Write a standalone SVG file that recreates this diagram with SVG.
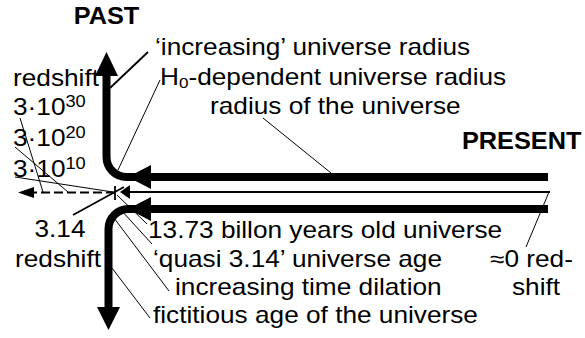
<svg xmlns="http://www.w3.org/2000/svg" width="585" height="338" viewBox="0 0 585 338">
<style>
text{font-family:"Liberation Sans",Arial,sans-serif;font-size:23px;fill:#000}
.b{font-weight:bold}
.thick{fill:none;stroke:#000;stroke-width:8}
.thin{fill:none;stroke:#000;stroke-width:2}
.lead{fill:none;stroke:#000;stroke-width:1}
.lead2{fill:none;stroke:#000;stroke-width:1.8}
.head{fill:#000;stroke:none}
</style>
<rect width="585" height="338" fill="#fff"/>
<g id="connectors">
  <path class="thick" d="M106.5,74 V157 A20,20 0 0 0 126.5,177 H548"/>
  <polygon class="head" points="106.5,52 95,76 118,76"/>
  <polygon class="head" points="128,177 151,165 151,189"/>
  <path class="thin" d="M550,192 H128"/>
  <polygon class="head" points="120,192 130,185 130,199"/>
  <path class="thin" d="M115,192.5 H32" stroke-dasharray="9 4"/>
  <polygon class="head" points="18,192.5 34,187 34,198"/>
  <line class="lead2" x1="115" y1="186" x2="115" y2="200"/>
  <path class="thick" d="M548,209 H128.5 A20,20 0 0 0 108.5,229 V309"/>
  <polygon class="head" points="108.5,330 97,307 120,307"/>
  <polygon class="head" points="128,209 151,197 151,221"/>
  <line class="lead2" x1="148" y1="52" x2="110" y2="88"/>
  <line class="lead" x1="160" y1="80" x2="118" y2="170"/>
  <line class="lead" x1="263" y1="118" x2="331" y2="173"/>
  <line class="lead" x1="20" y1="118" x2="43" y2="192"/>
  <line class="lead" x1="15" y1="147" x2="68" y2="192"/>
  <line class="lead" x1="15" y1="177" x2="113" y2="192"/>
  <line class="lead2" x1="73" y1="215" x2="124" y2="187"/>
  <line class="lead" x1="117" y1="195" x2="147" y2="224"/>
  <line class="lead" x1="121" y1="210" x2="152" y2="244"/>
  <line class="lead" x1="114" y1="218" x2="169" y2="291"/>
  <line class="lead" x1="112" y1="268" x2="150" y2="318"/>
  <line class="lead" x1="526" y1="247" x2="549" y2="192"/>
</g>
<g id="past"><text class="b" text-anchor="middle" transform="translate(106.5,24) scale(1.1,1)">PAST</text></g>
<g id="present"><text class="b" transform="translate(462,149) scale(1.1,1)">PRESENT</text></g>
<g id="increasing-radius"><text transform="translate(155,55) scale(1.14,1)">‘increasing’ universe radius</text></g>
<g id="h0-radius"><text transform="translate(160,85) scale(1.14,1)">H<tspan font-size="15" dy="3">0</tspan><tspan dy="-3">-dependent universe radius</tspan></text></g>
<g id="radius"><text transform="translate(210,114) scale(1.14,1)">radius of the universe</text></g>
<g id="redshift-top"><text transform="translate(13,86) scale(1.14,1)">redshift</text></g>
<g id="z30"><text transform="translate(13,115) scale(1.14,1)">3·10<tspan font-size="16" dy="-8">30</tspan></text></g>
<g id="z20"><text transform="translate(13,146) scale(1.14,1)">3·10<tspan font-size="16" dy="-8">20</tspan></text></g>
<g id="z10"><text transform="translate(13,177) scale(1.14,1)">3·10<tspan font-size="16" dy="-8">10</tspan></text></g>
<g id="z314"><text text-anchor="middle" transform="translate(60,237) scale(1.14,1)">3.14</text><text text-anchor="middle" transform="translate(58,267) scale(1.14,1)">redshift</text></g>
<g id="age-1373"><text transform="translate(148,238) scale(1.14,1)">13.73 billon years old universe</text></g>
<g id="quasi"><text transform="translate(153,267) scale(1.14,1)">‘quasi 3.14’ universe age</text></g>
<g id="dilation"><text transform="translate(175,295) scale(1.14,1)">increasing time dilation</text></g>
<g id="fictitious"><text transform="translate(153,323) scale(1.14,1)">fictitious age of the universe</text></g>
<g id="zero-redshift"><text transform="translate(490,267) scale(1.14,1)">≈0 red-</text><text transform="translate(512,295) scale(1.14,1)">shift</text></g>
</svg>
